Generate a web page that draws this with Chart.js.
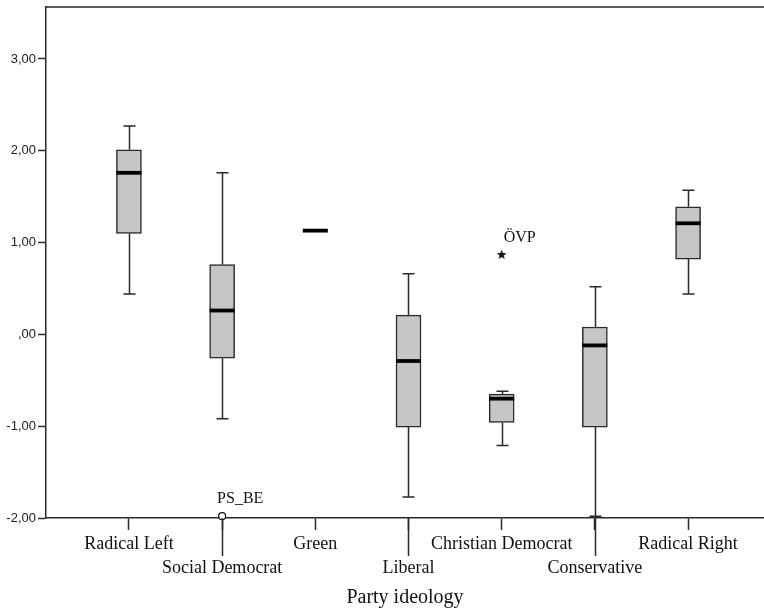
<!DOCTYPE html>
<html>
<head>
<meta charset="utf-8">
<script src="https://cdn.jsdelivr.net/npm/chart.js@4.4.1/dist/chart.umd.min.js"></script>
<style>
  html, body { margin: 0; padding: 0; background: #fff; }
  #wrap { width: 764px; height: 613px; }
</style>
</head>
<body>
<div id="wrap"><canvas id="boxChart" width="764" height="613"></canvas></div>
<script>
/* Boxplot por ideología de partido (estilo SPSS) */
const categories  = ['Radical Left', 'Social Democrat', 'Green', 'Liberal', 'Christian Democrat', 'Conservative', 'Radical Right'];
const whiskerMin  = [0.44, -0.92, 1.13, -1.77, -1.21, -1.98, 0.44];
const q1          = [1.10, -0.26, 1.13, -1.01, -0.96, -1.01, 0.82];
const median      = [1.76,  0.26, 1.13, -0.29, -0.70, -0.12, 1.21];
const q3          = [2.01,  0.76, 1.13,  0.21, -0.65,  0.08, 1.39];
const whiskerMax  = [2.27,  1.76, 1.13,  0.66, -0.62,  0.52, 1.57];

const outlierCat  = [1];
const outlierVal  = [-1.98];
const outlierName = ['PS_BE'];
const extremeCat  = [4];
const extremeVal  = [0.87];
const extremeName = ['ÖVP'];

const yTicks      = [-2, -1, 0, 1, 2, 3];
const yTickLabels = ['-2,00', '-1,00', ',00', '1,00', '2,00', '3,00'];

const LINE = '#2a2a2a';

/* Estrella rellena para los valores extremos */
const starImg = document.createElement('canvas');
starImg.width = 11; starImg.height = 11;
(function () {
  const c = starImg.getContext('2d');
  c.fillStyle = '#111';
  c.beginPath();
  for (let k = 0; k < 10; k++) {
    const r = k % 2 === 0 ? 5.2 : 2.2;
    const a = -Math.PI / 2 + k * Math.PI / 5;
    const px = 5.5 + r * Math.cos(a), py = 5.8 + r * Math.sin(a);
    k === 0 ? c.moveTo(px, py) : c.lineTo(px, py);
  }
  c.closePath();
  c.fill();
})();

/* Bigotes, medianas, etiquetas de casos y marco superior */
const boxPlot = {
  id: 'boxPlot',
  beforeDatasetsDraw(chart) {
    const { ctx, scales: { x, y } } = chart;
    ctx.save();
    ctx.strokeStyle = LINE;
    ctx.lineWidth = 1.5;
    categories.forEach((_, i) => {
      const cx = Math.round(x.getPixelForValue(i)) + 0.5;
      const segs = [[whiskerMax[i], q3[i]], [whiskerMin[i], q1[i]]];
      segs.forEach(([w, b]) => {
        if (w === b) return;
        const wy = y.getPixelForValue(w), by = y.getPixelForValue(b);
        ctx.beginPath();
        ctx.moveTo(cx, wy); ctx.lineTo(cx, by);
        ctx.moveTo(cx - 6, wy); ctx.lineTo(cx + 6, wy);
        ctx.stroke();
      });
    });
    ctx.restore();
  },
  afterDatasetsDraw(chart) {
    const { ctx, scales: { x, y } } = chart;
    ctx.save();
    ctx.strokeStyle = '#000';
    ctx.lineWidth = 3.8;
    categories.forEach((_, i) => {
      const cx = x.getPixelForValue(i);
      const my = y.getPixelForValue(median[i]);
      ctx.beginPath();
      ctx.moveTo(cx - 12.5, my); ctx.lineTo(cx + 12.5, my);
      ctx.stroke();
    });
    ctx.fillStyle = '#111';
    ctx.font = "16px 'Liberation Serif'";
    ctx.textBaseline = 'middle';
    ctx.textAlign = 'left';
    outlierCat.forEach((c, k) => {
      ctx.fillText(outlierName[k], x.getPixelForValue(c) - 5, y.getPixelForValue(outlierVal[k]) - 17);
    });
    extremeCat.forEach((c, k) => {
      ctx.fillText(extremeName[k], x.getPixelForValue(c) + 2, y.getPixelForValue(extremeVal[k]) - 17);
    });
    ctx.restore();
  },
  afterDraw(chart) {
    const { ctx, chartArea, scales: { x } } = chart;
    ctx.save();
    ctx.strokeStyle = LINE;
    ctx.lineWidth = 1.5;
    ctx.beginPath();
    ctx.moveTo(chartArea.left, chartArea.top);
    ctx.lineTo(chartArea.right, chartArea.top);
    // ticks largos para las etiquetas de la segunda fila
    categories.forEach((_, i) => {
      if (i % 2 === 0) return;
      const cx = Math.round(x.getPixelForValue(i)) + 0.5;
      ctx.moveTo(cx, chartArea.bottom);
      ctx.lineTo(cx, chartArea.bottom + 38);
    });
    ctx.stroke();
    ctx.restore();
  },
};

new Chart(document.getElementById('boxChart').getContext('2d'), {
  type: 'bar',
  data: {
    datasets: [
      {
        type: 'scatter',
        data: outlierCat.map((c, k) => ({ x: c, y: outlierVal[k] })),
        pointStyle: 'circle',
        pointRadius: 3.5,
        backgroundColor: '#fff',
        borderColor: '#111',
        borderWidth: 1.2,
        clip: false,
      },
      {
        type: 'scatter',
        data: extremeCat.map((c, k) => ({ x: c, y: extremeVal[k] })),
        pointStyle: starImg,
        clip: false,
      },
      {
        type: 'bar',
        data: categories.map((_, i) => ({ x: i, y: [q1[i], q3[i]] })),
        backgroundColor: '#c6c6c6',
        borderColor: LINE,
        borderWidth: 1.5,
        borderSkipped: false,
        barThickness: 25,
      },
    ],
  },
  options: {
    responsive: false,
    animation: false,
    layout: { autoPadding: false, padding: { top: 7, left: 0, right: 0, bottom: 0 } },
    plugins: {
      legend:  { display: false },
      tooltip: { enabled: false },
    },
    scales: {
      x: {
        type: 'linear',
        min: -0.89,
        max: 6.815,
        offset: false,
        afterBuildTicks: (s) => { s.ticks = categories.map((_, i) => ({ value: i })); },
        afterFit: (s) => { s.height = 95; s.paddingLeft = 0; s.paddingRight = 0; },
        grid:   { display: true, drawOnChartArea: false, drawTicks: true, tickLength: 12, offset: false, color: LINE, tickWidth: 1.5 },
        border: { display: true, color: LINE, width: 1.5 },
        ticks: {
          autoSkip: false,
          maxRotation: 0,
          padding: 3,
          color: '#111',
          font: { family: "'Liberation Serif'", size: 18, lineHeight: 1.3 },
          callback: (v) => {
            const i = Math.round(v);
            return i % 2 === 1 ? ['', categories[i]] : categories[i];
          },
        },
        title: {
          display: true,
          text: 'Party ideology',
          color: '#111',
          font: { family: "'Liberation Serif'", size: 20 },
          padding: { top: 0, bottom: 3 },
        },
      },
      y: {
        min: -2,
        max: 3.566,
        afterBuildTicks: (s) => { s.ticks = yTicks.map(v => ({ value: v })); },
        afterFit: (s) => { s.width = 46; s.paddingTop = 0; s.paddingBottom = 0; },
        grid:   { display: true, drawOnChartArea: false, drawTicks: true, tickLength: 8, color: LINE, tickWidth: 1.5 },
        border: { display: true, color: LINE, width: 1.5 },
        ticks: {
          padding: 2,
          color: '#222',
          font: { family: "'Liberation Sans'", size: 13 },
          callback: (v) => yTickLabels[yTicks.indexOf(v)],
        },
      },
    },
  },
  plugins: [boxPlot],
});
</script>
</body>
</html>
